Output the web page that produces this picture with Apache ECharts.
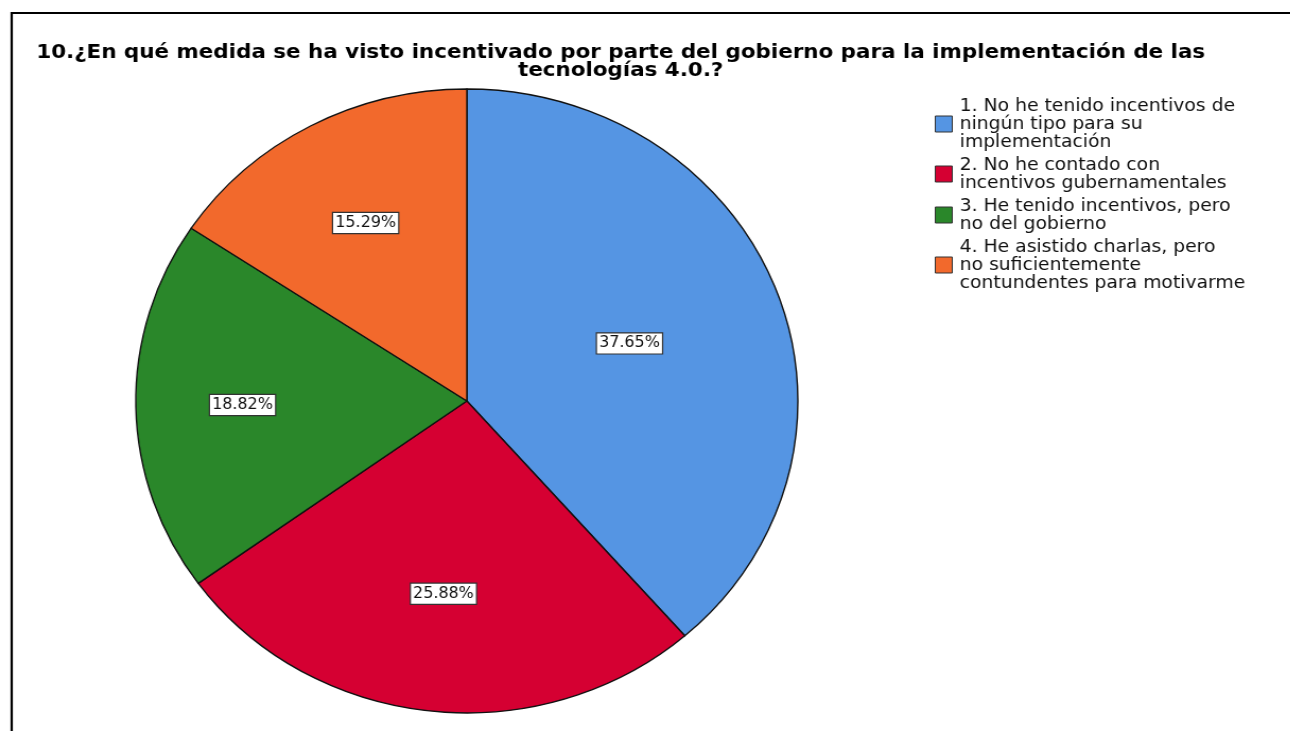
<!DOCTYPE html>
<html>
<head>
	<meta charset="utf-8">
	<title></title>
	<script src="https://cdn.jsdelivr.net/npm/echarts@6/dist/echarts.min.js"></script>
	<style>
		html, body { margin: 0; padding: 0; background: #fff; overflow: hidden; }
		/* the original picture is a little wider than tall (pie is an ellipse), stretch the whole chart */
		#main { width: 1216px; height: 731px; transform: scaleX(1.061); transform-origin: 0 0; }
	</style>
</head>
<body>
	<div id="main"></div>
	<script type="text/javascript">

		var titleText = '10.¿En qué medida se ha visto incentivado por parte del gobierno para la implementación de las\ntecnologías 4.0.?';

		// categorias (texto de la leyenda, con los mismos cortes de linea)
		var categorias = [
			'1. No he tenido incentivos de\nningún tipo para su\nimplementación',
			'2. No he contado con\nincentivos gubernamentales',
			'3. He tenido incentivos, pero\nno del gobierno',
			'4. He asistido charlas, pero\nno suficientemente\ncontundentes para motivarme'
		];
		// porcentajes mostrados en cada sector
		var porcentajes = [37.65, 25.88, 18.82, 15.29];
		var colores = ['#5595E3', '#D50032', '#2A872A', '#F2692C'];

		// distancia de cada etiqueta respecto a la posicion "inside" por defecto
		var distEtiqueta = [1.03, 1.22, 1.33, 1.27];

		var centro = [440, 401];

		var myChart = echarts.init(document.getElementById('main'));

		var datos = [];
		for (var i = 0; i < categorias.length; i++) {
			datos.push({ name: categorias[i], value: porcentajes[i] });
		}

		var option = {
			animation: false,
			backgroundColor: '#ffffff',
			color: colores,
			title: {
				text: titleText,
				left: 580,
				top: 39,
				textAlign: 'center',
				textStyle: {
					fontFamily: 'DejaVu Sans',
					fontWeight: 'bold',
					fontSize: 20.2,
					lineHeight: 18,
					color: '#000'
				}
			},
			legend: {
				orient: 'vertical',
				left: 876,
				top: 92,
				itemWidth: 16,
				itemHeight: 16,
				itemGap: 5,
				icon: 'rect',
				itemStyle: {
					borderColor: '#333',
					borderWidth: 1
				},
				textStyle: {
					fontFamily: 'DejaVu Sans',
					fontSize: 17.7,
					lineHeight: 18,
					color: '#111',
					padding: [0, 0, 0, 2]
				},
				data: categorias
			},
			graphic: [
				{
					type: 'rect',
					silent: true,
					shape: { x: 11, y: 13, width: 2000, height: 2000 },
					style: { fill: 'none', stroke: '#000', lineWidth: 2.2 }
				}
			],
			series: [
				{
					type: 'pie',
					radius: 312,
					center: centro,
					startAngle: 90,
					clockwise: true,
					data: datos,
					itemStyle: {
						borderColor: '#111',
						borderWidth: 1.4
					},
					emphasis: { disabled: true },
					label: {
						show: true,
						position: 'inside',
						formatter: function (p) { return p.value.toFixed(2) + '%'; },
						fontFamily: 'DejaVu Sans',
						fontSize: 15,
						color: '#111',
						backgroundColor: '#fff',
						borderColor: '#333',
						borderWidth: 1.2,
						padding: [3, 2, 2, 2]
					},
					labelLayout: function (params) {
						var r = params.labelRect;
						var lx = r.x + r.width / 2;
						var ly = r.y + r.height / 2;
						var f = distEtiqueta[params.dataIndex] - 1;
						return { dx: (lx - centro[0]) * f, dy: (ly - centro[1]) * f };
					}
				}
			]
		};

		myChart.setOption(option);

	</script>
</body>
</html>
